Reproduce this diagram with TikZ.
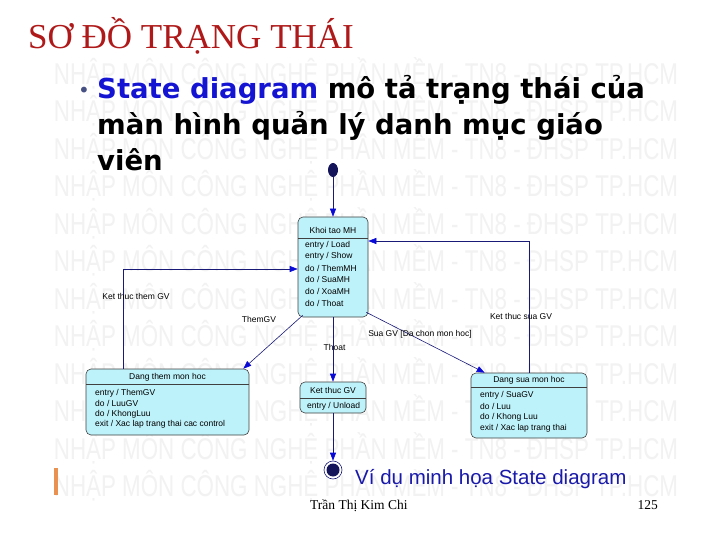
\documentclass[tikz,border=0pt]{standalone}
\usepackage{fontspec}
\setmainfont{Liberation Serif}
\newfontfamily\bulletfont{DejaVu Sans}
\newfontfamily\arialfont{Liberation Sans}
\usetikzlibrary{arrows.meta,shapes.geometric,calc}
\definecolor{titlered}{RGB}{175,25,25}
\definecolor{bulletblue}{RGB}{20,20,210}
\definecolor{bulletgray}{RGB}{70,80,130}
\definecolor{navy}{RGB}{25,25,120}
\definecolor{dotnavy}{RGB}{20,20,90}
\definecolor{tipblue}{RGB}{10,10,215}
\definecolor{boxcyan}{RGB}{190,242,250}
\definecolor{capblue}{RGB}{25,25,170}
\definecolor{wm}{RGB}{242,242,242}
\definecolor{barorange}{RGB}{232,145,80}
\begin{document}
\begin{tikzpicture}[x=1pt,y=-1pt,
  statebox/.style={draw=black!75, line width=0.6pt, fill=boxcyan, rounded corners=5pt, inner sep=0pt},
  sep/.style={draw=black!75, line width=0.6pt},
  lbl/.style={font=\arialfont\fontsize{8.5}{10}\selectfont, inner sep=0pt},
  item/.style={lbl, anchor=west},
  trans/.style={draw=navy, line width=0.6pt, -{Triangle[length=8pt,width=6pt,color=tipblue]}},
  wmark/.style={font=\arialfont\fontsize{30}{30}\selectfont, text=wm, xscale=0.745, inner sep=0pt},
  bline/.style={anchor=base west, inner sep=0pt, font=\bulletfont\bfseries\fontsize{27.5}{30}\selectfont}
]
\useasboundingbox (0,0) rectangle (720,540);
\fill[white] (0,0) rectangle (720,540);

% watermark
\foreach \k in {0,...,11}{
  \node[wmark] (wm\k) at (366,73+37.5*\k) {NHẬP MÔN CÔNG NGHỆ PHẦN MỀM - TN8 - ĐHSP TP.HCM};
}

% title
\node[anchor=base west, inner sep=0pt, text=titlered, font=\fontsize{35}{35}\selectfont] (title) at (28,49) {SƠ ĐỒ TRẠNG THÁI};

% bullet text
\node[anchor=base, inner sep=0pt, text=bulletgray, font=\bulletfont\fontsize{20}{20}\selectfont] (bdot) at (84,98) {•};
\node[bline] (bl1) at (97,99) {\textcolor{bulletblue}{State diagram} mô tả trạng thái của};
\node[bline] (bl2) at (97,135) {màn hình quản lý danh mục giáo};
\node[bline] (bl3) at (97,171) {viên};

% initial state
\node[ellipse, fill=dotnavy, minimum width=10pt, minimum height=14pt, inner sep=0pt] (init) at (333,170) {};

% Khoi tao MH
\node[statebox, minimum width=70pt, minimum height=100pt] (khoi) at (333,267) {};
\draw[sep] (298,238) -- (368,238);
\node[lbl] (khoiT) at (333,230) {Khoi tao MH};
\node[item] (k1) at (305,245) {entry / Load};
\node[item] (k2) at (305,256.6) {entry / Show};
\node[item] (k3) at (305,268.2) {do / ThemMH};
\node[item] (k4) at (305,279.8) {do / SuaMH};
\node[item] (k5) at (305,291.4) {do / XoaMH};
\node[item] (k6) at (305,303) {do / Thoat};

% Dang them mon hoc
\node[statebox, minimum width=163pt, minimum height=66pt] (them) at (167.5,402) {};
\draw[sep] (86,384) -- (249,384);
\node[lbl] (themT) at (167.5,377) {Dang them mon hoc};
\node[item] (t1) at (95,393) {entry / ThemGV};
\node[item] (t2) at (95,403.5) {do / LuuGV};
\node[item] (t3) at (95,414) {do / KhongLuu};
\node[item] (t4) at (95,424.5) {exit / Xac lap trang thai cac control};

% Dang sua mon hoc
\node[statebox, minimum width=116pt, minimum height=65pt] (sua) at (529,405.5) {};
\draw[sep] (471,387) -- (587,387);
\node[lbl] (suaT) at (529,380) {Dang sua mon hoc};
\node[item] (s1) at (480,395) {entry / SuaGV};
\node[item] (s2) at (480,406) {do / Luu};
\node[item] (s3) at (480,417) {do / Khong Luu};
\node[item] (s4) at (480,428) {exit / Xac lap trang thai};

% Ket thuc GV
\node[statebox, minimum width=66pt, minimum height=31pt] (kt) at (333,397.5) {};
\draw[sep] (300,398) -- (366,398);
\node[lbl] (ktT) at (333,390) {Ket thuc GV};
\node[item] (kt1) at (307,406) {entry / Unload};

% final state
\node[circle, draw=navy, line width=0.6pt, fill=white, minimum size=18pt, inner sep=0pt] (final) at (333,470) {};
\fill[dotnavy] (final.center) circle (6.5pt);

% transitions
\draw[trans] (init) -- (khoi);
\draw[trans] ([xshift=5pt,yshift=2pt]khoi.south west) -- ([xshift=-6pt]them.north east);
\draw[trans] ([xshift=38pt]them.north west) |- ([yshift=-2pt]khoi.west);
\draw[trans] ([xshift=-2pt,yshift=5pt]khoi.south east) -- ([xshift=14pt]sua.north west);
\draw[trans] (sua.north) |- ([yshift=26pt]khoi.east);
\draw[trans] (khoi.south) -- (kt.north);
\draw[trans] (kt.south) -- (final);

% labels
\node[lbl] (lThem) at (259,319) {ThemGV};
\node[lbl] (lKTthem) at (136,296) {Ket thuc them GV};
\node[lbl] (lThoat) at (334.5,347) {Thoat};
\node[lbl] (lSua) at (420,334) {Sua GV [Da chon mon hoc]};
\node[lbl] (lKTsua) at (521,316) {Ket thuc sua GV};

% caption and footer
\fill[barorange] (54,468) rectangle (58,495);
\node[anchor=base west, inner sep=0pt, font=\arialfont\fontsize{20.5}{21}\selectfont, text=capblue] (cap) at (355,484) {Ví dụ minh họa State diagram};
\node[anchor=base west, inner sep=0pt, font=\fontsize{13.5}{14}\selectfont] (author) at (310,509) {Trần Thị Kim Chi};
\node[anchor=base east, inner sep=0pt, font=\fontsize{13.5}{14}\selectfont] (page) at (658,509) {125};
\end{tikzpicture}
\end{document}
